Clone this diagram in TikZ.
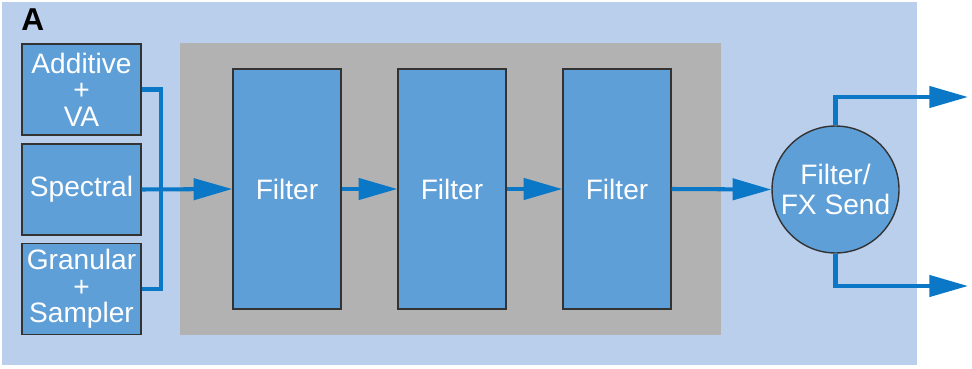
\documentclass[tikz,border=0pt]{standalone}
\usepackage{fontspec}
\setmainfont{Liberation Sans}
\usetikzlibrary{arrows.meta}
\definecolor{bgblue}{HTML}{B9CFEB}
\definecolor{boxblue}{HTML}{5F9FD7}
\definecolor{panelgray}{HTML}{B2B2B2}
\definecolor{wireblue}{HTML}{0A77C7}
\definecolor{edge}{HTML}{333333}
\tikzset{
  blk/.style={draw=edge, line width=0.8pt, fill=boxblue, text=white, font=\fontsize{16}{17}\selectfont, align=center, inner sep=0pt},
  srcbox/.style={blk, minimum width=2.38cm, minimum height=1.82cm},
  fltbox/.style={blk, minimum width=2.16cm, minimum height=4.8cm},
  sendnode/.style={blk, circle, minimum size=2.54cm},
  wire/.style={draw=wireblue, line width=2.3pt},
  arr/.style={wire, -{Triangle[length=22pt,width=12pt]}}
}
\begin{document}
\begin{tikzpicture}[x=0.02cm,y=-0.02cm]
\useasboundingbox (0,0) rectangle (972,368);
\fill[bgblue] (2,2) rectangle (917,365);
\node[font=\bfseries\fontsize{18}{20}\selectfont, anchor=base west, inner sep=0pt] (lbl) at (21,31) {A};
\fill[panelgray] (180,43) rectangle (721,335);
\node[srcbox] (add) at (81.5,89.5) {Additive\\[-2pt]+\\[-2pt]VA};
\node[srcbox] (spec) at (81.5,189.5) {Spectral};
\node[srcbox] (gran) at (81.5,289) {Granular\\[-2pt]+\\[-2pt]Sampler};
\node[fltbox] (f1) at (287,189) {Filter};
\node[fltbox] (f2) at (452,189) {Filter};
\node[fltbox] (f3) at (617,189) {Filter};
\node[sendnode] (fx) at (835.5,189.5) {Filter/\\[0pt]FX Send};
\coordinate (bt) at (161,89.5);
\coordinate (o1) at (968,97);
\coordinate (o2) at (968,286);
\draw[wire] (add.east) -- (bt) |- (gran.east);
\draw[arr] (spec.east) -- (f1.west);
\draw[arr] (f1.east) -- (f2.west);
\draw[arr] (f2.east) -- (f3.west);
\draw[arr] (f3.east) -- (fx.west);
\draw[arr] (fx.north) |- (o1);
\draw[arr] (fx.south) |- (o2);
\end{tikzpicture}
\end{document}
